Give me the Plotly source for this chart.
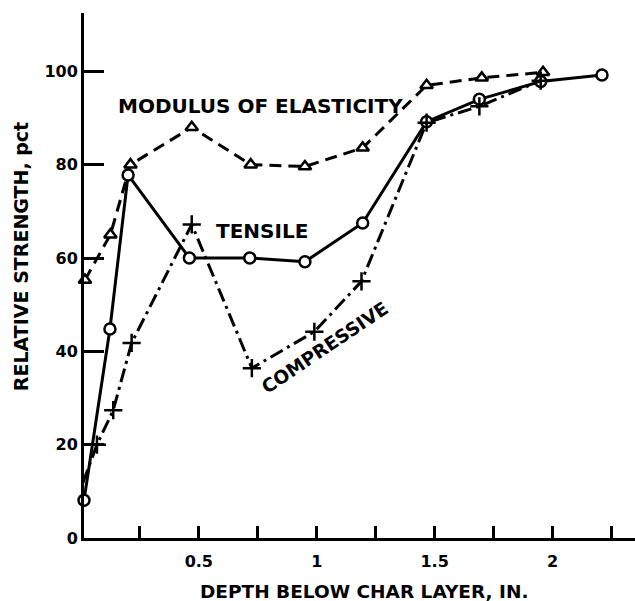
import plotly.graph_objects as go

# Depth below char layer (in.) and relative strength (pct)
mod_x = [0.017, 0.125, 0.21, 0.47, 0.72, 0.95, 1.195, 1.466, 1.70, 1.96]
mod_y = [55.3, 65.0, 80.0, 88.0, 80.0, 79.6, 83.6, 97.0, 98.6, 99.8]

ten_x = [0.013, 0.123, 0.20, 0.46, 0.716, 0.95, 1.195, 1.466, 1.69, 1.95, 2.21]
ten_y = [8.1, 44.8, 77.8, 60.0, 60.0, 59.2, 67.5, 89.2, 94.0, 97.8, 99.2]

com_x = [0.008, 0.068, 0.137, 0.215, 0.47, 0.725, 0.99, 1.19, 1.466, 1.69, 1.95]
com_y = [11.8, 20.0, 27.4, 41.8, 67.2, 36.4, 44.2, 55.0, 89.0, 92.5, 98.0]

x_tickvals = [0.25, 0.5, 0.75, 1.0, 1.25, 1.5, 1.75, 2.0, 2.25]
x_ticktext = ["", "0.5", "", "1", "", "1.5", "", "2", ""]
y_tickvals = [0, 20, 40, 60, 80, 100]
y_ticktext = ["0", "20", "40", "60", "80", "100"]

FONT = "DejaVu Sans"

fig = go.Figure()
fig.add_trace(go.Scatter(
    x=mod_x, y=mod_y, mode="lines+markers", cliponaxis=False,
    line=dict(color="black", width=3, dash="12px,7px"),
    marker=dict(symbol="triangle-up", size=11, color="white",
                line=dict(color="black", width=2.5)),
    showlegend=False))
fig.add_trace(go.Scatter(
    x=ten_x, y=ten_y, mode="lines+markers", cliponaxis=False,
    line=dict(color="black", width=3),
    marker=dict(symbol="circle", size=11, color="white",
                line=dict(color="black", width=2.5)),
    showlegend=False))
fig.add_trace(go.Scatter(
    x=com_x, y=com_y, mode="lines+markers", cliponaxis=False,
    line=dict(color="black", width=3, dash="14px,5px,3px,5px"),
    marker=dict(symbol="cross-thin", size=13,
                line=dict(color="black", width=2.5)),
    showlegend=False))

annots = [
    dict(x=0.76, y=92.5, text="MODULUS OF ELASTICITY", textangle=0, size=20),
    dict(x=0.77, y=65.8, text="TENSILE", textangle=0, size=20),
    dict(x=1.035, y=40.8, text="COMPRESSIVE", textangle=-34, size=18.5),
]
for a in annots:
    fig.add_annotation(x=a["x"], y=a["y"], text=a["text"], textangle=a["textangle"],
                       showarrow=False, xref="x", yref="y",
                       font=dict(family=FONT, size=a["size"], color="black", weight="bold"))

# axis titles
fig.add_annotation(x=0.508, y=-0.101, xref="paper", yref="paper",
                   xanchor="center", yanchor="middle",
                   text="DEPTH BELOW CHAR LAYER, IN.", showarrow=False,
                   font=dict(family=FONT, size=18.5, color="black", weight="bold"))
fig.add_annotation(x=-0.1143, y=0.535, xref="paper", yref="paper",
                   xanchor="center", yanchor="middle",
                   text="RELATIVE STRENGTH, pct", textangle=-90, showarrow=False,
                   font=dict(family=FONT, size=19, color="black", weight="bold"))

fig.update_layout(
    width=635, height=601,
    margin=dict(l=84, r=0, t=13, b=63),
    paper_bgcolor="white", plot_bgcolor="white",
    font=dict(family=FONT, color="black"),
)
fig.update_xaxes(
    range=[0.013, 2.35], showgrid=False, zeroline=False,
    showline=True, linecolor="black", linewidth=3,
    ticks="inside", ticklen=12, tickwidth=3, tickcolor="black",
    tickvals=x_tickvals, ticktext=x_ticktext, ticklabelstandoff=7,
    tickfont=dict(family=FONT, size=16, color="black", weight="bold"),
)
fig.update_yaxes(
    range=[0, 112.5], showgrid=False, zeroline=False,
    showline=True, linecolor="black", linewidth=3,
    ticks="inside", ticklen=20, tickwidth=3, tickcolor="black",
    tickvals=y_tickvals, ticktext=y_ticktext,
    tickfont=dict(family=FONT, size=16, color="black", weight="bold"),
)

fig.write_html("out.html")
